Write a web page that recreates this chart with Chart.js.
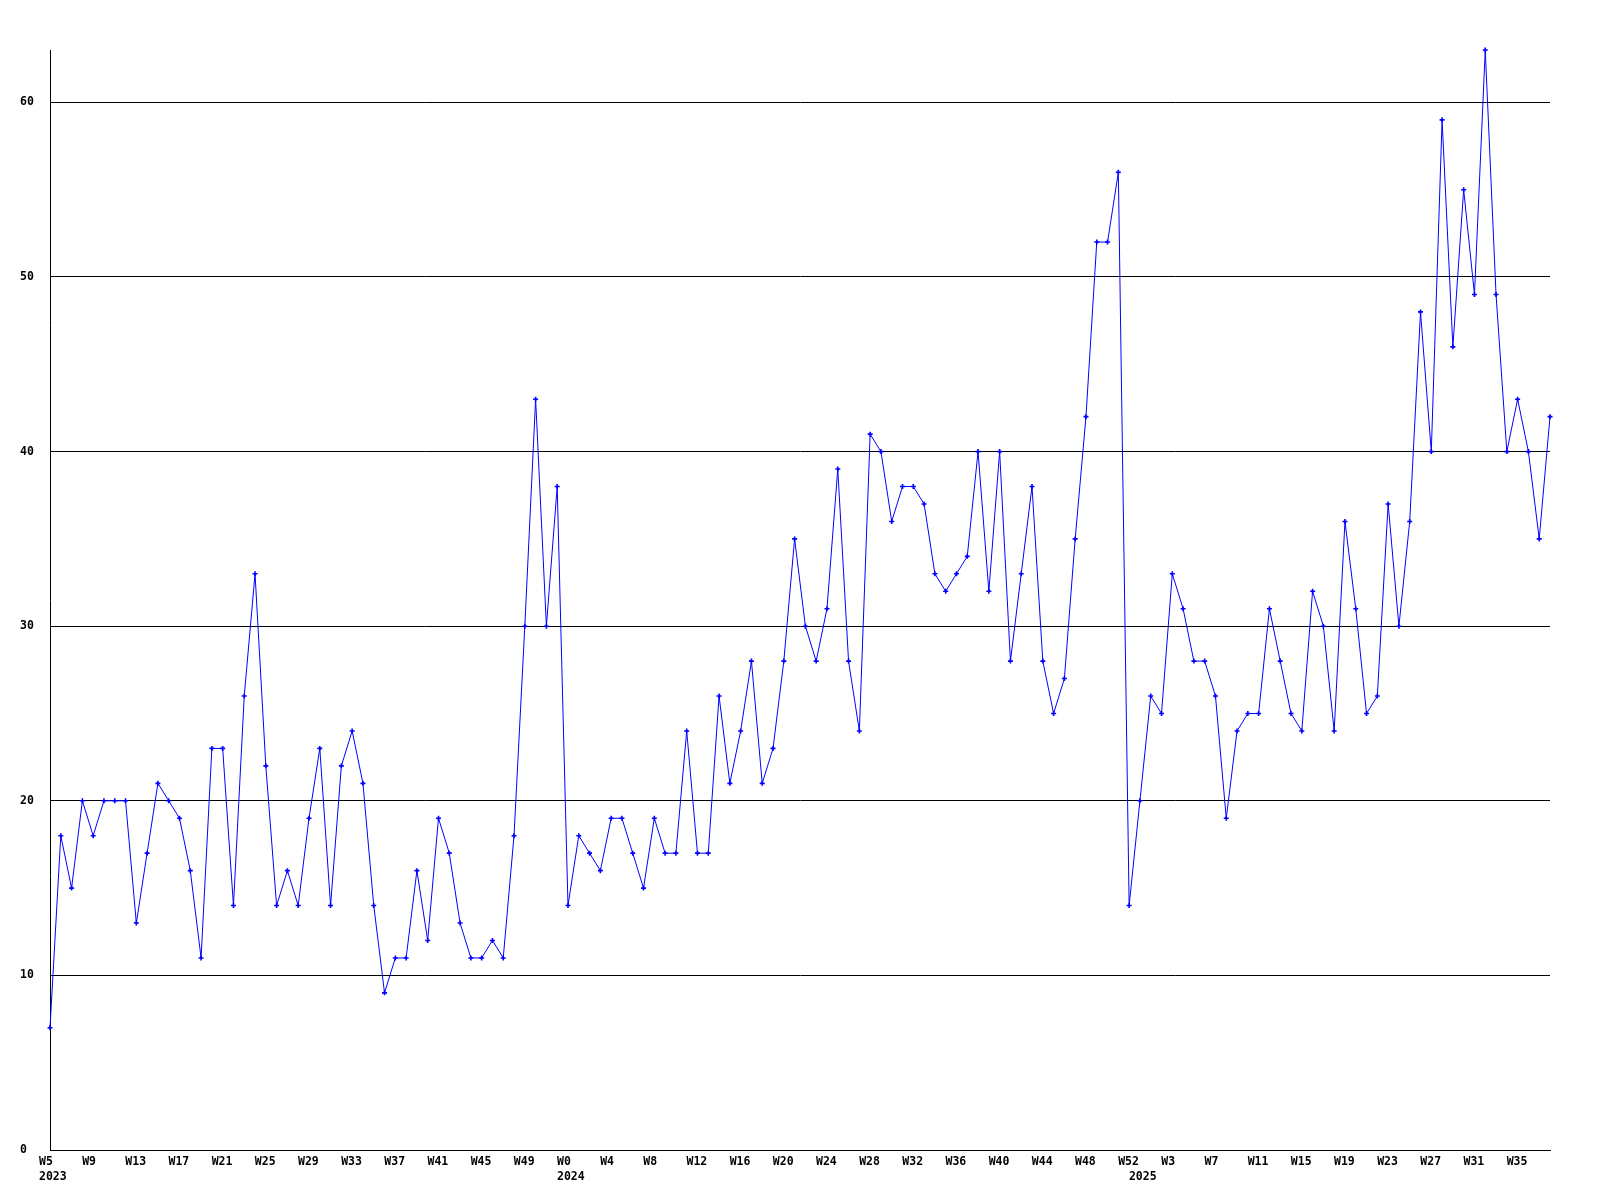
<!DOCTYPE html>
<html>
<head>
<meta charset="utf-8">
<script src="https://cdn.jsdelivr.net/npm/chart.js@4/dist/chart.umd.min.js"></script>
<style>
  html, body { margin: 0; padding: 0; background: #ffffff; }
  canvas { display: block; }
</style>
</head>
<body>
<canvas id="c" width="1600" height="1200"></canvas>
<script>
// ---- Data ----
const years = ['2023', '2024', '2025'];

const weeks2023 = ['W5','W6','W7','W8','W9','W10','W11','W12','W13','W14','W15','W16','W17','W18','W19','W20',
  'W21','W22','W23','W24','W25','W26','W27','W28','W29','W30','W31','W32','W33','W34','W35','W36',
  'W37','W38','W39','W40','W41','W42','W43','W44','W45','W46','W47','W48','W49','W50','W51','W52'];
const weeks2024 = ['W0','W1','W2','W3','W4','W5','W6','W7','W8','W9','W10','W11','W12','W13','W14','W15','W16',
  'W17','W18','W19','W20','W21','W22','W23','W24','W25','W26','W27','W28','W29','W30','W31','W32',
  'W33','W34','W35','W36','W37','W38','W39','W40','W41','W42','W43','W44','W45','W46','W47','W48',
  'W49','W50','W51','W52'];
const weeks2025 = ['W0','W1','W2','W3','W4','W5','W6','W7','W8','W9','W10','W11','W12','W13','W14','W15','W16',
  'W17','W18','W19','W20','W21','W22','W23','W24','W25','W26','W27','W28','W29','W30','W31','W32',
  'W33','W34','W35','W36','W37','W38'];

const values2023 = [7,18,15,20,18,20,20,20,13,17,21,20,19,16,11,23,23,14,26,33,22,14,16,14,19,23,14,22,24,21,
  14,9,11,11,16,12,19,17,13,11,11,12,11,18,30,43,30,38];
const values2024 = [14,18,17,16,19,19,17,15,19,17,17,24,17,17,26,21,24,28,21,23,28,35,30,28,31,39,28,24,41,40,
  36,38,38,37,33,32,33,34,40,32,40,28,33,38,28,25,27,35,42,52,52,56,14];
const values2025 = [20,26,25,33,31,28,28,26,19,24,25,25,31,28,25,24,32,30,24,36,31,25,26,37,30,36,48,40,59,46,
  55,49,63,49,40,43,40,35,42];

const yTickStep = 10;
const weekLabelEvery = 4;

// ---- Build library structures ----
const weekGroups = [weeks2023, weeks2024, weeks2025];
const valueGroups = [values2023, values2024, values2025];
const labels = [];
const yearOfIndex = [];
const yearStart = new Set();
weekGroups.forEach((g, gi) => {
  yearStart.add(labels.length);
  g.forEach(w => { labels.push(w); yearOfIndex.push(years[gi]); });
});
const values = [].concat(...valueGroups);
const yMax = Math.max(...values);

const tickFont = { family: 'DejaVu Sans Mono, Liberation Mono, monospace', size: 11.5, weight: 'bold', lineHeight: 1.26 };

new Chart(document.getElementById('c'), {
  type: 'line',
  data: {
    labels: labels,
    datasets: [{
      data: values,
      borderColor: '#0000ff',
      backgroundColor: '#0000ff',
      borderWidth: 1,
      tension: 0,
      fill: false,
      clip: false,
      pointStyle: 'cross',
      pointRadius: 2.5,
      pointBorderWidth: 1.6,
      pointBorderColor: '#0000ff',
      pointBackgroundColor: '#0000ff'
    }]
  },
  options: {
    responsive: false,
    animation: false,
    devicePixelRatio: 1,
    layout: { padding: { left: 20, top: 50, right: 50, bottom: 0 } },
    plugins: { legend: { display: false }, tooltip: { enabled: false }, title: { display: false } },
    scales: {
      x: {
        type: 'category',
        offset: false,
        grid: { display: false, drawTicks: false },
        border: { display: true, color: '#000000', width: 1 },
        ticks: {
          autoSkip: false,
          maxRotation: 0,
          minRotation: 0,
          align: 'start',
          labelOffset: -11,
          padding: 5,
          color: '#000000',
          font: tickFont,
          callback: function (value, index) {
            const showWeek = index % weekLabelEvery === 0;
            const showYear = yearStart.has(index);
            if (showWeek && showYear) return [labels[index], yearOfIndex[index]];
            if (showYear) return ['', yearOfIndex[index]];
            if (showWeek) return labels[index];
            return '';
          }
        },
        afterFit: function (s) { s.height = 50; }
      },
      y: {
        min: 0,
        max: yMax,
        afterBuildTicks: function (s) { s.ticks = s.ticks.filter(t => t.value % yTickStep === 0); },
        grid: { color: '#000000', lineWidth: 1, drawTicks: false },
        border: { display: true, color: '#000000', width: 1 },
        ticks: {
          stepSize: yTickStep,
          crossAlign: 'far',
          padding: 0,
          color: '#000000',
          font: tickFont
        },
        afterFit: function (s) { s.width = 30; }
      }
    }
  }
});
</script>
</body>
</html>
